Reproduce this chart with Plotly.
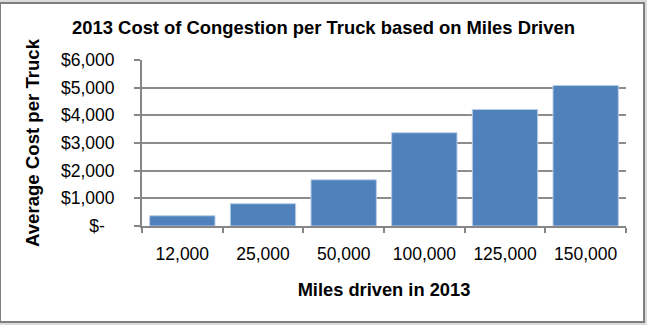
import plotly.graph_objects as go

categories = ["12,000", "25,000", "50,000", "100,000", "125,000", "150,000"]
avg_cost = [370, 805, 1670, 3370, 4210, 5080]
y_tickvals = [0, 1000, 2000, 3000, 4000, 5000, 6000]
y_ticktext = ["$-\u00a0\u00a0", "$1,000", "$2,000", "$3,000", "$4,000", "$5,000", "$6,000"]

title_text = "2013 Cost of Congestion per Truck based on Miles Driven"
x_title = "Miles driven in 2013"
y_title = "Average Cost per Truck"

FONT = "Liberation Sans, Arial, sans-serif"
AXIS_GRAY = "#868686"

fig = go.Figure(go.Bar(
    x=categories, y=avg_cost,
    marker=dict(color="#4F81BD", line=dict(color="#B9CDE5", width=1)),
))

fig.update_layout(
    width=647, height=325,
    margin=dict(l=142, r=21, t=60, b=99),
    paper_bgcolor="#DCDCDC",
    plot_bgcolor="white",
    bargap=0.19,
    showlegend=False,
    font=dict(family=FONT, size=17, color="black"),
    title=dict(text="<b>" + title_text + "</b>", x=0.5, xanchor="center",
               y=1 - 28 / 325, yanchor="middle",
               font=dict(family=FONT, size=18.4, color="black")),
    shapes=[dict(type="rect", xref="paper", yref="paper", layer="below",
                 x0=-142 / 484, x1=(644 - 142) / 484,
                 y0=(226 - 322) / 166, y1=(226 - 3) / 166,
                 line=dict(color="#7F7F7F", width=2), fillcolor="white")],
)

fig.update_xaxes(
    type="category",
    showline=True, linecolor=AXIS_GRAY, linewidth=2,
    ticks="outside", tickson="boundaries", ticklen=5, tickcolor=AXIS_GRAY, tickwidth=1.5,
    ticklabelstandoff=11,
    tickfont=dict(family=FONT, size=17.5),
    showgrid=False,
    title=dict(text="<b>" + x_title + "</b>", standoff=20,
               font=dict(family=FONT, size=18.3)),
)
fig.update_yaxes(
    range=[0, 6000],
    tickvals=y_tickvals, ticktext=y_ticktext,
    showline=True, linecolor=AXIS_GRAY, linewidth=2,
    ticks="outside", ticklen=6, tickcolor=AXIS_GRAY, tickwidth=1.5,
    ticklabelstandoff=16,
    tickfont=dict(family=FONT, size=17.5),
    showgrid=True, gridcolor="#8C8C8C", gridwidth=1.5,
    zeroline=False,
    title=dict(text="<b>" + y_title + "</b>", standoff=16,
               font=dict(family=FONT, size=18.6)),
)

fig.write_html("out.html")
